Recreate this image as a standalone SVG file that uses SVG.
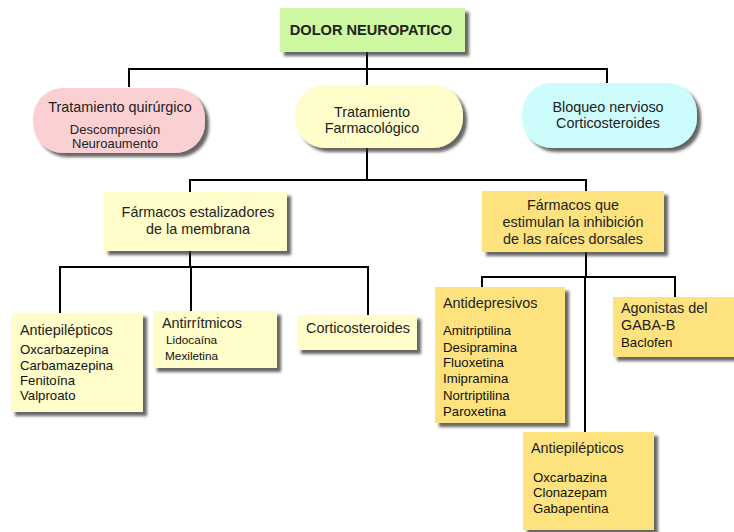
<svg xmlns="http://www.w3.org/2000/svg" width="734" height="532" viewBox="0 0 734 532">
  <defs>
    <filter id="shadow" x="-10%" y="-10%" width="130%" height="140%">
      <feDropShadow dx="4" dy="4" stdDeviation="1.8" flood-color="#333" flood-opacity="0.75"/>
    </filter>
  </defs>
  <style>
    text { font-family: "Liberation Sans", Arial, sans-serif; fill: #222; }
    .box { filter: url(#shadow); }
    .green { fill: #cdf7a0; }
    .pink { fill: #fbd0d2; }
    .cream { fill: #fffdc9; }
    .cyan { fill: #cdfcfd; }
    .gold { fill: #fde27e; }
    .t13 { font-size: 14.4px; }
    .t12 { font-size: 13.2px; fill: #111; }
    .t11 { font-size: 11.8px; fill: #111; }
    .t14 { font-size: 14.4px; }
    .mid { text-anchor: middle; }
    .conn { fill: none; stroke: #000; stroke-width: 2; }
  </style>

  <rect width="734" height="532" fill="#fff"/>

  <!-- connectors -->
  <g id="connectors" class="conn">
    <path d="M367 52 V69 M129 87 V69 H607 V83 M367 69 V85"/>
    <path d="M367 148 V180 M190 192 V180 H586 V191"/>
    <path d="M190 251 V267 M60 313 V267 H368 V315 M191 267 V311"/>
    <path d="M586 252 V277 M482 287 V277 H675 V297 M585 277 V432"/>
  </g>

  <!-- root -->
  <g id="n-root">
    <rect class="box green" x="280" y="8" width="185" height="44"/>
    <text class="mid" x="371" y="35" font-size="14.6" font-weight="bold" fill="#111">DOLOR NEUROPATICO</text>
  </g>

  <!-- level 1 -->
  <g id="n-quirurgico">
    <rect class="box pink" x="33" y="88" width="172" height="65" rx="30"/>
    <text class="t13 mid" x="120" y="112">Tratamiento quirúrgico</text>
    <text class="mid" x="115" y="134" font-size="13">Descompresión</text>
    <text class="mid" x="115" y="148" font-size="13">Neuroaumento</text>
  </g>
  <g id="n-farmacologico">
    <rect class="box cream" x="295" y="85" width="168" height="63" rx="30"/>
    <text class="t13 mid" x="372" y="117">Tratamiento</text>
    <text class="t13 mid" x="372" y="133">Farmacológico</text>
  </g>
  <g id="n-bloqueo">
    <rect class="box cyan" x="522" y="83" width="175" height="65" rx="30"/>
    <text class="t13 mid" x="608" y="112">Bloqueo nervioso</text>
    <text class="t13 mid" x="608" y="128">Corticosteroides</text>
  </g>

  <!-- level 2 -->
  <g id="n-estabilizadores">
    <rect class="box cream" x="104" y="192" width="183" height="59"/>
    <text class="t13 mid" x="198" y="217">Fármacos estalizadores</text>
    <text class="t13 mid" x="198" y="234">de la membrana</text>
  </g>
  <g id="n-inhibicion">
    <rect class="box gold" x="482" y="191" width="182" height="61"/>
    <text class="t13 mid" x="573" y="210">Fármacos que</text>
    <text class="t13 mid" x="573" y="227">estimulan la inhibición</text>
    <text class="t13 mid" x="573" y="244">de las raíces dorsales</text>
  </g>

  <!-- level 3, membrane stabilisers -->
  <g id="n-antiepilepticos-1">
    <rect class="box cream" x="11" y="313" width="132" height="99"/>
    <text class="t14" x="20" y="335">Antiepilépticos</text>
    <text class="t12" x="20" y="354">Oxcarbazepina</text>
    <text class="t12" x="20" y="370">Carbamazepina</text>
    <text class="t12" x="20" y="385">Fenitoína</text>
    <text class="t12" x="20" y="400">Valproato</text>
  </g>
  <g id="n-antirritmicos">
    <rect class="box cream" x="153" y="311" width="124" height="57"/>
    <text class="t13" x="162" y="328">Antirrítmicos</text>
    <text class="t11" x="166" y="344">Lidocaína</text>
    <text class="t11" x="165" y="360">Mexiletina</text>
  </g>
  <g id="n-corticosteroides">
    <rect class="box cream" x="297" y="315" width="120" height="35"/>
    <text class="t13" x="306" y="333">Corticosteroides</text>
  </g>

  <!-- level 3, dorsal root inhibition -->
  <g id="n-antidepresivos">
    <rect class="box gold" x="435" y="287" width="130" height="136"/>
    <text class="t14" x="443" y="308">Antidepresivos</text>
    <text class="t12" x="443" y="335">Amitriptilina</text>
    <text class="t12" x="443" y="352">Desipramina</text>
    <text class="t12" x="443" y="367">Fluoxetina</text>
    <text class="t12" x="443" y="383">Imipramina</text>
    <text class="t12" x="443" y="400">Nortriptilina</text>
    <text class="t12" x="443" y="416">Paroxetina</text>
  </g>
  <g id="n-gaba">
    <rect class="box gold" x="613" y="297" width="121" height="60"/>
    <text class="t14" x="621" y="313">Agonistas del</text>
    <text class="t14" x="621" y="330">GABA-B</text>
    <text class="t12" x="621" y="347">Baclofen</text>
  </g>
  <g id="n-antiepilepticos-2">
    <rect class="box gold" x="523" y="432" width="131" height="98"/>
    <text class="t14" x="531" y="453">Antiepilépticos</text>
    <text class="t12" x="533" y="482">Oxcarbazina</text>
    <text class="t12" x="533" y="497">Clonazepam</text>
    <text class="t12" x="533" y="513">Gabapentina</text>
  </g>
</svg>
